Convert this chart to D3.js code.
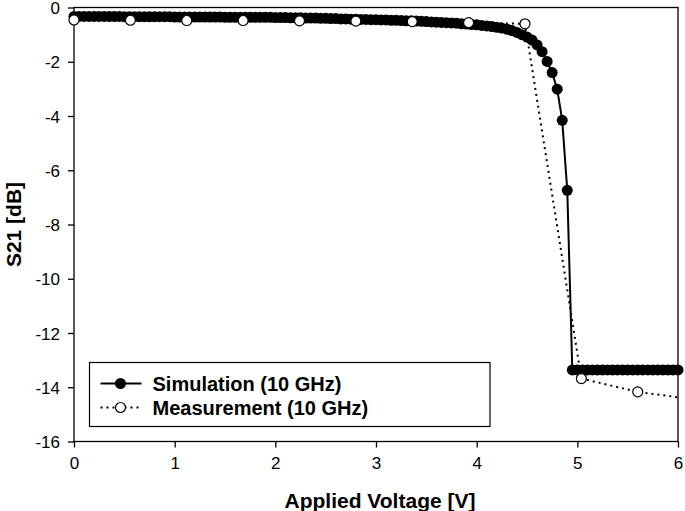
<!DOCTYPE html>
<html>
<head>
<meta charset="utf-8">
<script src="https://cdn.jsdelivr.net/npm/d3@7"></script>
<style>
  html, body { margin: 0; padding: 0; background: #fff; }
  svg { display: block; font-family: "Liberation Sans", Arial, sans-serif; }
</style>
</head>
<body>
<svg id="chart" width="685" height="511"></svg>
<script>
// Simulation (10 GHz): applied voltage [V] and S21 [dB], 0.05 V steps
const simVoltage = [
  0.00, 0.05, 0.10, 0.15, 0.20, 0.25, 0.30, 0.35, 0.40, 0.45,
  0.50, 0.55, 0.60, 0.65, 0.70, 0.75, 0.80, 0.85, 0.90, 0.95,
  1.00, 1.05, 1.10, 1.15, 1.20, 1.25, 1.30, 1.35, 1.40, 1.45,
  1.50, 1.55, 1.60, 1.65, 1.70, 1.75, 1.80, 1.85, 1.90, 1.95,
  2.00, 2.05, 2.10, 2.15, 2.20, 2.25, 2.30, 2.35, 2.40, 2.45,
  2.50, 2.55, 2.60, 2.65, 2.70, 2.75, 2.80, 2.85, 2.90, 2.95,
  3.00, 3.05, 3.10, 3.15, 3.20, 3.25, 3.30, 3.35, 3.40, 3.45,
  3.50, 3.55, 3.60, 3.65, 3.70, 3.75, 3.80, 3.85, 3.90, 3.95,
  4.00, 4.05, 4.10, 4.15, 4.20, 4.25, 4.30, 4.35, 4.40, 4.45,
  4.50, 4.55, 4.60, 4.65, 4.70, 4.75, 4.80, 4.85, 4.90, 4.95,
  5.00, 5.05, 5.10, 5.15, 5.20, 5.25, 5.30, 5.35, 5.40, 5.45,
  5.50, 5.55, 5.60, 5.65, 5.70, 5.75, 5.80, 5.85, 5.90, 5.95,
  6.00
];
const simS21 = [
  -0.33, -0.33, -0.33, -0.33, -0.33, -0.33, -0.33, -0.33, -0.33, -0.33,
  -0.34, -0.34, -0.34, -0.34, -0.34, -0.34, -0.34, -0.34, -0.34, -0.34,
  -0.35, -0.35, -0.35, -0.35, -0.35, -0.35, -0.35, -0.35, -0.35, -0.35,
  -0.36, -0.36, -0.36, -0.36, -0.36, -0.36, -0.36, -0.36, -0.36, -0.36,
  -0.37, -0.37, -0.37, -0.38, -0.38, -0.38, -0.39, -0.39, -0.39, -0.40,
  -0.40, -0.41, -0.41, -0.42, -0.42, -0.43, -0.43, -0.44, -0.44, -0.45,
  -0.45, -0.46, -0.46, -0.47, -0.47, -0.48, -0.49, -0.49, -0.50, -0.51,
  -0.52, -0.53, -0.54, -0.55, -0.56, -0.57, -0.58, -0.60, -0.61, -0.63,
  -0.64, -0.66, -0.68, -0.70, -0.73, -0.76, -0.80, -0.85, -0.92, -1.00,
  -1.09, -1.20, -1.38, -1.63, -1.99, -2.40, -3.01, -4.16, -6.74, -13.36,
  -13.36, -13.36, -13.36, -13.36, -13.36, -13.36, -13.36, -13.36, -13.36, -13.36,
  -13.36, -13.36, -13.36, -13.36, -13.36, -13.36, -13.36, -13.36, -13.36, -13.36,
  -13.36
];

// Measurement (10 GHz)
const measVoltage = [0.00, 0.56, 1.12, 1.68, 2.24, 2.80, 3.36, 3.92, 4.48, 5.04, 5.60, 6.16];
const measS21 = [-0.46, -0.47, -0.48, -0.48, -0.49, -0.50, -0.52, -0.56, -0.60, -13.68, -14.17, -14.45];

const xTicks = [0, 1, 2, 3, 4, 5, 6];
const yTicks = [0, -2, -4, -6, -8, -10, -12, -14, -16];

const seriesNames = ["Simulation (10 GHz)", "Measurement (10 GHz)"];

const svg = d3.select('#chart');
const margin = { left: 74, top: 7.5, right: 7, bottom: 69.5 };
const width = 685 - margin.left - margin.right;
const height = 511 - margin.top - margin.bottom;

const x = d3.scaleLinear().domain([0, 6]).range([0, width]);
const y = d3.scaleLinear().domain([-16, 0]).range([height, 0]);

const g = svg.append('g').attr('transform', `translate(${margin.left},${margin.top})`);

svg.append('defs').append('clipPath').attr('id', 'plotClip')
  .append('rect').attr('x', 0).attr('y', 0).attr('width', width).attr('height', height);

// frame
g.append('rect')
  .attr('width', width).attr('height', height)
  .attr('fill', 'none').attr('stroke', '#000').attr('stroke-width', 1.3);

// axes
const xAxis = g.append('g').attr('transform', `translate(0,${height})`)
  .call(d3.axisBottom(x).tickValues(xTicks).tickSize(6).tickPadding(9).tickFormat(d3.format('d')));
const yAxis = g.append('g')
  .call(d3.axisLeft(y).tickValues(yTicks).tickSize(6).tickPadding(8).tickFormat(d => d === 0 ? '0' : '-' + Math.abs(d)));

[xAxis, yAxis].forEach(a => {
  a.select('.domain').remove();
  a.selectAll('line').attr('stroke', '#000').attr('stroke-width', 1.3);
  a.selectAll('text').attr('fill', '#000').style('font-size', '17px')
    .style('font-family', '"Liberation Sans", Arial, sans-serif');
});
yAxis.selectAll('text').attr('dy', '0.36em');

// axis titles
svg.append('text')
  .attr('x', margin.left + width / 2 + 4).attr('y', 508)
  .attr('text-anchor', 'middle')
  .style('font-size', '21px').style('font-weight', 'bold')
  .text('Applied Voltage [V]');

svg.append('text')
  .attr('transform', `translate(21,${margin.top + height / 2}) rotate(-90)`)
  .attr('text-anchor', 'middle')
  .style('font-size', '21px').style('font-weight', 'bold')
  .text('S21 [dB]');

const line = d3.line().x(d => x(d[0])).y(d => y(d[1]));

// simulation
const simData = simVoltage.map((v, i) => [v, simS21[i]]);
g.append('path').datum(simData)
  .attr('d', line).attr('fill', 'none')
  .attr('stroke', '#000').attr('stroke-width', 2);
g.append('g').selectAll('circle').data(simData).enter().append('circle')
  .attr('cx', d => x(d[0])).attr('cy', d => y(d[1]))
  .attr('r', 5.5).attr('fill', '#000');

// measurement
const measData = measVoltage.map((v, i) => [v, measS21[i]]);
g.append('path').datum(measData)
  .attr('d', line).attr('fill', 'none')
  .attr('clip-path', 'url(#plotClip)')
  .attr('stroke', '#000').attr('stroke-width', 2)
  .attr('stroke-dasharray', '2,4');
g.append('g').selectAll('circle').data(measData.filter(d => d[0] <= 6)).enter().append('circle')
  .attr('cx', d => x(d[0])).attr('cy', d => y(d[1]))
  .attr('r', 5).attr('fill', '#fff').attr('stroke', '#000').attr('stroke-width', 1.2);

// legend
const legend = svg.append('g').attr('transform', 'translate(89.5,362.5)');
legend.append('rect')
  .attr('width', 400.5).attr('height', 64)
  .attr('fill', '#fff').attr('stroke', '#000').attr('stroke-width', 1.2);

seriesNames.forEach((name, i) => {
  const row = legend.append('g').attr('transform', `translate(0,${21 + i * 24})`);
  const ln = row.append('line')
    .attr('x1', 11).attr('x2', 52).attr('y1', 0).attr('y2', 0)
    .attr('stroke', '#000').attr('stroke-width', 2);
  if (i === 0) {
    row.append('circle').attr('cx', 31).attr('cy', 0).attr('r', 5.5).attr('fill', '#000');
  } else {
    ln.attr('stroke-dasharray', '2,4');
    row.append('circle').attr('cx', 31).attr('cy', 0).attr('r', 5)
      .attr('fill', '#fff').attr('stroke', '#000').attr('stroke-width', 1.2);
  }
  row.append('text')
    .attr('x', 63).attr('y', 0).attr('dy', '0.36em')
    .style('font-size', '20px').style('font-weight', 'bold')
    .text(name);
});
</script>
</body>
</html>
